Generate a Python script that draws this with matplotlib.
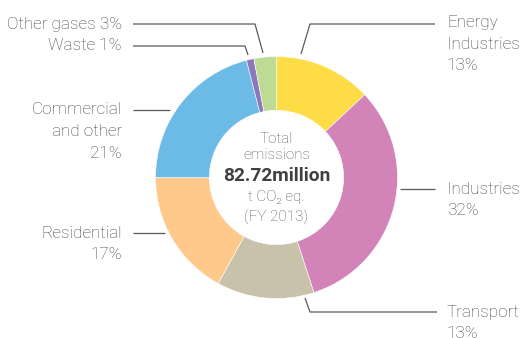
import matplotlib
matplotlib.use("Agg")
import matplotlib.pyplot as plt

plt.rcParams['font.family'] = ['Roboto', 'DejaVu Sans']

categories = ["Energy\nIndustries", "Industries", "Transport", "Residential",
              "Commercial\nand other", "Waste", "Other gases"]
shares = [13, 32, 13, 17, 21, 1, 3]
colors = ["#FEDC45", "#D283B8", "#C8C2AB", "#FFC98B", "#6CBAE6", "#8B78BD", "#BEDB93"]

W, H = 524, 338
fig = plt.figure(figsize=(W / 100, H / 100), dpi=100)
ax = fig.add_axes([0, 0, 1, 1])

cx, cy, R = 276.5, H - 177.5, 121
ax.pie(shares, colors=colors, startangle=90, counterclock=False,
       center=(cx, cy), radius=R, frame=True,
       wedgeprops=dict(width=R * 0.445, edgecolor='white', linewidth=0.4))
ax.set_xlim(0, W)
ax.set_ylim(0, H)
ax.set_aspect('equal')
ax.axis('off')

txt = "#454545"
line_c = "#5a5a5a"
fs = 12.3
lead = 21.5

# labels: (text, text x, first-line y, ha, leader points in pixel coords)
labels = [
    (f"Other gases {shares[6]}%", 122, 24, 'right', [(133, 24), (255, 24), (263, 53)]),
    (f"Waste {shares[5]}%", 122, 46, 'right', [(133, 46), (245, 46), (248, 55)]),
    (f"{categories[0]}\n{shares[0]}%", 447, 23, 'left', [(435, 24), (310, 24), (301, 54)]),
    (f"{categories[1]}\n{shares[1]}%", 447, 189, 'left', [(435, 189), (400, 189)]),
    (f"{categories[2]}\n{shares[2]}%", 447, 312, 'left', [(437, 312), (310, 312), (305, 298)]),
    (f"{categories[4]}\n{shares[4]}%", 122, 110, 'right', [(133, 110), (170, 110)]),
    (f"{categories[3]}\n{shares[3]}%", 122, 233, 'right', [(133, 233), (165, 233)]),
]
for text, tx, ty, ha, pts in labels:
    for i, line in enumerate(text.split("\n")):
        ax.text(tx, H - (ty + i * lead), line, ha=ha, va='center', fontsize=fs,
                fontweight='light', color=txt)
    xs = [p[0] for p in pts]
    ys = [H - p[1] for p in pts]
    ax.plot(xs, ys, color=line_c, lw=0.9, solid_capstyle='butt')

# centre caption
cfs = 11
cc = "#5a5a5a"
ax.text(cx, H - 139, "Total", ha='center', va='center', fontsize=cfs,
        fontweight='light', color=cc)
ax.text(cx, H - 155, "emissions", ha='center', va='center', fontsize=cfs,
        fontweight='light', color=cc)
ax.text(cx, H - 176, "82.72million", ha='center', va='center', fontsize=13.8,
        fontweight='bold', color="#404040")
ax.text(cx, H - 197, "t CO\u2082 eq.", ha='center', va='center', fontsize=cfs,
        fontweight='light', color=cc)
ax.text(cx, H - 217, "(FY 2013)", ha='center', va='center', fontsize=cfs,
        fontweight='light', color=cc)

fig.savefig("out.png", dpi=100)
